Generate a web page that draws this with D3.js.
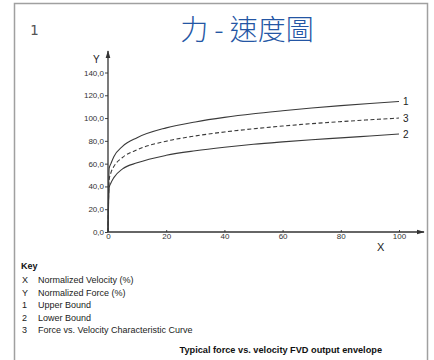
<!DOCTYPE html>
<html>
<head>
<meta charset="utf-8">
<script src="https://cdn.jsdelivr.net/npm/d3@7"></script>
<style>
  body { margin: 0; background: #fff; }
  svg { display: block; }
</style>
</head>
<body>
<div id="chart"></div>
<script>
// values (x = normalized velocity %, y = normalized force %)
var xs    = [0, 0.4, 1, 2, 5, 10, 20, 30, 40, 50, 60, 70, 80, 90, 100];
var upper = [0, 56, 60, 66.1, 75.2, 82.8, 91.4, 96.6, 100.6, 103.8, 106.4, 108.8, 110.9, 112.8, 114.6];
var mid   = [0, 46, 52, 57.4, 65.4, 72.2, 79.7, 84.3, 87.8, 90.6, 93.0, 95.1, 96.9, 98.5, 100.0];
var lower = [0, 39, 43, 47.7, 55.4, 60.7, 67.3, 71.3, 74.4, 77.0, 79.1, 81.0, 82.6, 84.3, 86.0];

var xTicks = [0, 20, 40, 60, 80, 100];
var yTicks = [0, 20, 40, 60, 80, 100, 120, 140];

var keyRows = [
  ["X", "Normalized Velocity (%)"],
  ["Y", "Normalized Force (%)"],
  ["1", "Upper Bound"],
  ["2", "Lower Bound"],
  ["3", "Force vs. Velocity Characteristic Curve"]
];

var W = 434, H = 360;

var svg = d3.select("#chart").append("svg")
  .attr("width", W)
  .attr("height", H);

// frame
svg.append("rect")
  .attr("x", 14.5).attr("y", 3.5)
  .attr("width", 413).attr("height", 370)
  .attr("fill", "none")
  .attr("stroke", "#a0a0a0")
  .attr("stroke-width", 1.5);

svg.append("text")
  .attr("x", 30).attr("y", 35)
  .attr("font-family", "DejaVu Sans Mono")
  .attr("font-size", 14)
  .attr("fill", "#555")
  .text("1");

svg.append("text")
  .attr("x", 247).attr("y", 40)
  .attr("text-anchor", "middle")
  .attr("font-family", "Noto Sans CJK TC")
  .attr("font-weight", 300)
  .attr("font-size", 28)
  .attr("fill", "#2456a4")
  .text("力 - 速度圖");

var x = d3.scaleLinear().domain([0, 100]).range([108, 399]);
var y = d3.scaleLinear().domain([0, 140]).range([232, 72.5]);

var defs = svg.append("defs");
defs.append("marker")
  .attr("id", "arrow")
  .attr("viewBox", "0 0 10 10")
  .attr("refX", 9).attr("refY", 5)
  .attr("markerWidth", 6).attr("markerHeight", 6)
  .attr("orient", "auto")
  .append("path")
  .attr("d", "M0,2 L10,5 L0,8 z")
  .attr("fill", "#333");

// axes
var xAxis = svg.append("g")
  .attr("transform", "translate(0," + y(0) + ")")
  .call(d3.axisBottom(x).tickValues(xTicks).tickSize(-2).tickPadding(3));
var yAxis = svg.append("g")
  .attr("transform", "translate(" + x(0) + ",0)")
  .call(d3.axisLeft(y).tickValues(yTicks).tickSize(3).tickPadding(1)
    .tickFormat(function(d) { return d3.format(".1f")(d).replace(".", ","); }));

[xAxis, yAxis].forEach(function(g) {
  g.select(".domain").remove();
  g.selectAll("line").attr("stroke", "#444");
  g.selectAll("text")
    .attr("font-family", "Liberation Sans")
    .attr("font-size", 8)
    .attr("fill", "#333");
});
xAxis.selectAll("text").attr("dy", "0.5em");

svg.append("line")
  .attr("x1", x(0)).attr("y1", y(0))
  .attr("x2", 424).attr("y2", y(0))
  .attr("stroke", "#333").attr("stroke-width", 1.3)
  .attr("marker-end", "url(#arrow)");
svg.append("line")
  .attr("x1", x(0)).attr("y1", y(0))
  .attr("x2", x(0)).attr("y2", 51)
  .attr("stroke", "#333").attr("stroke-width", 1.3)
  .attr("marker-end", "url(#arrow)");

svg.append("text")
  .attr("x", 93).attr("y", 63)
  .attr("font-family", "Liberation Sans")
  .attr("font-size", 10)
  .attr("fill", "#222")
  .text("Y");
svg.append("text")
  .attr("x", 377).attr("y", 251)
  .attr("font-family", "Liberation Sans")
  .attr("font-size", 11)
  .attr("fill", "#222")
  .text("X");

// curves
var line = d3.line()
  .x(function(d) { return x(d[0]); })
  .y(function(d) { return y(d[1]); })
  .curve(d3.curveMonotoneX);

var series = [
  { name: "1", vals: upper, dash: null },
  { name: "3", vals: mid, dash: "4,2.5" },
  { name: "2", vals: lower, dash: null }
];

series.forEach(function(s) {
  var pts = xs.map(function(v, i) { return [v, s.vals[i]]; });
  svg.append("path")
    .datum(pts)
    .attr("d", line)
    .attr("fill", "none")
    .attr("stroke", "#3a3a3a")
    .attr("stroke-width", 1.1)
    .attr("stroke-dasharray", s.dash);
  svg.append("text")
    .attr("x", x(100) + 4)
    .attr("y", y(s.vals[s.vals.length - 1]) + 4)
    .attr("font-family", "Liberation Sans")
    .attr("font-size", 10)
    .attr("fill", "#222")
    .text(s.name);
});

// key
svg.append("text")
  .attr("x", 21).attr("y", 269)
  .attr("font-family", "Liberation Sans")
  .attr("font-weight", "bold")
  .attr("font-size", 9)
  .attr("fill", "#111")
  .text("Key");

var rows = svg.selectAll(".key-row")
  .data(keyRows)
  .enter().append("g")
  .attr("class", "key-row")
  .attr("transform", function(d, i) { return "translate(0," + (283 + i * 12.6) + ")"; });
rows.append("text")
  .attr("x", 22)
  .attr("font-family", "Liberation Sans")
  .attr("font-size", 9)
  .attr("fill", "#222")
  .text(function(d) { return d[0]; });
rows.append("text")
  .attr("x", 38)
  .attr("font-family", "Liberation Sans")
  .attr("font-size", 9)
  .attr("fill", "#222")
  .text(function(d) { return d[1]; });

svg.append("text")
  .attr("x", 382).attr("y", 353)
  .attr("text-anchor", "end")
  .attr("font-family", "Liberation Sans")
  .attr("font-weight", "bold")
  .attr("font-size", 9.2)
  .attr("fill", "#111")
  .text("Typical force vs. velocity FVD output envelope");
</script>
</body>
</html>
